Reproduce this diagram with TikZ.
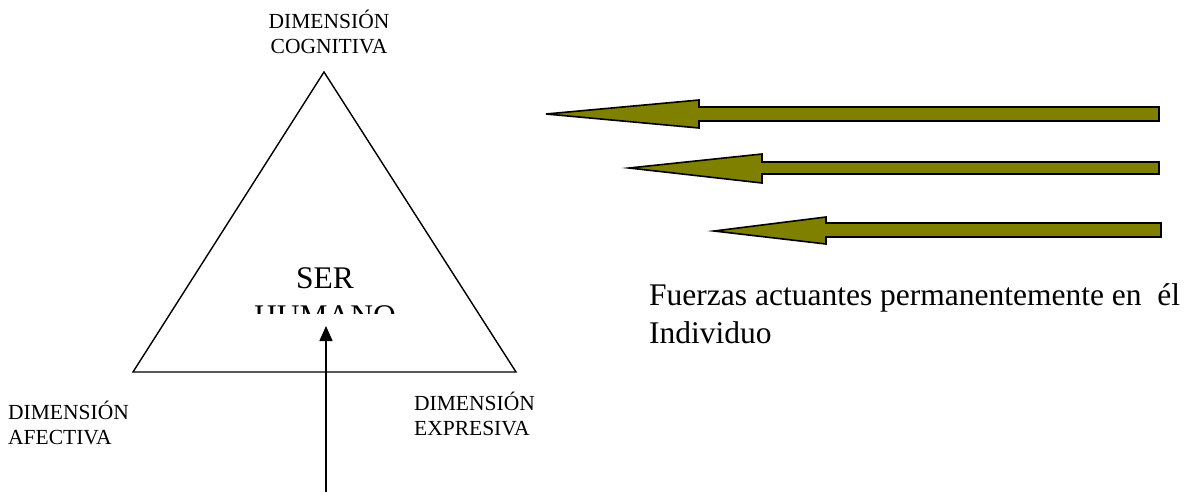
\documentclass[tikz,border=0pt]{standalone}
\usepackage{fontspec}
\setmainfont{Liberation Serif}
\usetikzlibrary{arrows.meta}
\definecolor{arrowolive}{RGB}{128,128,0}
\tikzset{
  small/.style={font=\fontsize{21.5}{24.5}\selectfont, inner sep=0pt, align=left},
  big/.style={font=\fontsize{31.5}{38}\selectfont, inner sep=0pt},
  force/.style={draw=black, line width=1.6pt, fill=arrowolive, line join=miter},
  tri/.style={draw=black, line width=1.4pt, line join=miter},
  up/.style={draw=black, line width=1.6pt, -{Triangle[length=15pt,width=13pt]}}
}
\begin{document}
\begin{tikzpicture}[x=1pt,y=-1pt]
\useasboundingbox (0,0) rectangle (1195,499);
% triangle
\coordinate (apex) at (324,72);
\coordinate (left) at (133,372);
\coordinate (right) at (516,372);
\draw[tri] (apex) -- (left) -- (right) -- cycle;
% labels (anchor = baseline of last line)
\node[small, anchor=base, align=center] (cog) at (329,53) {DIMENSIÓN\\COGNITIVA};
\node[small, anchor=base west] (afe) at (8,444) {DIMENSIÓN\\AFECTIVA};
\node[small, anchor=base west] (exp) at (414,435) {DIMENSIÓN\\EXPRESIVA};
% centre text, clipped
\begin{scope}
\clip (200,240) rectangle (450,313);
\node[big, anchor=base] (ser) at (325,288) {SER};
\node[big, anchor=base] (hum) at (325,326) {HUMANO};
\end{scope}
% vertical arrow
\coordinate (upbase) at (326,492);
\coordinate (uptip) at (326,326);
\draw[up] (upbase) -- (uptip);
% force arrows
\draw[force] (546,114) -- (699,100) -- (699,107) -- (1159,107) -- (1159,121) -- (699,121) -- (699,128) -- cycle;
\draw[force] (629,168) -- (762,154) -- (762,162) -- (1159,162) -- (1159,174) -- (762,174) -- (762,183) -- cycle;
\draw[force] (714,231) -- (826,217) -- (826,223) -- (1161,223) -- (1161,237) -- (826,237) -- (826,244) -- cycle;
% caption
\node[big, anchor=base west] (fz) at (649,305) {Fuerzas actuantes permanentemente en\ \ él};
\node[big, anchor=base west] (ind) at (649,343) {Individuo};
\end{tikzpicture}
\end{document}
